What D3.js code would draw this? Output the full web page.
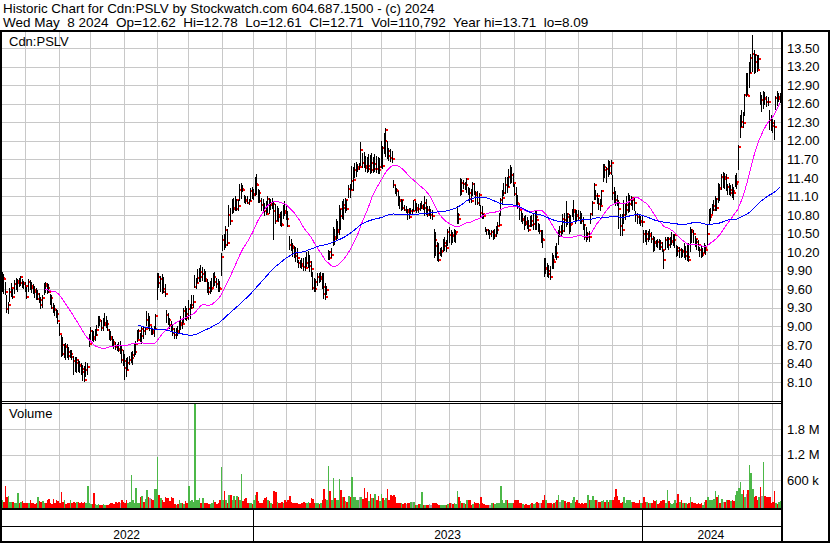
<!DOCTYPE html>
<html>
<head>
<meta charset="utf-8">
<script src="https://cdn.jsdelivr.net/npm/d3@7"></script>
<style>
  body { margin: 0; background: #fff; }
  svg { display: block; font-family: "Liberation Sans", Arial, sans-serif; }
</style>
</head>
<body>
<svg id="chart" width="830" height="543"></svg>
<script>
// ---- Daily data, Cdn:PSLV, 2022-05-09 .. 2024-05-08 ----
const highs = [
  9.80, 9.88, 9.85, 9.72, 9.50, 9.40, 9.62, 9.70, 9.60, 9.75,
  9.78, 9.76, 9.78, 9.82, 9.76, 9.74, 9.72, 9.64, 9.76, 9.75,
  9.72, 9.68, 9.66, 9.62, 9.58, 9.54, 9.48, 9.50, 9.70, 9.72,
  9.70, 9.68, 9.52, 9.50, 9.38, 9.34, 9.28, 9.26, 9.05, 8.86,
  8.83, 8.72, 8.73, 8.72, 8.66, 8.62, 8.62, 8.52, 8.50, 8.50,
  8.46, 8.44, 8.40, 8.38, 8.36, 8.42, 8.40, 8.88, 8.99, 8.94,
  8.92, 8.95, 9.02, 9.16, 9.16, 9.10, 9.14, 9.22, 9.16, 9.10,
  8.95, 8.92, 8.84, 8.80, 8.74, 8.72, 8.74, 8.76, 8.68, 8.62,
  8.56, 8.48, 8.50, 8.52, 8.58, 8.60, 8.72, 8.76, 8.94, 8.96,
  8.90, 8.99, 9.00, 8.98, 9.24, 9.22, 9.16, 9.00, 8.96, 9.00,
  9.20, 9.86, 9.86, 9.82, 9.84, 9.80, 9.68, 9.26, 9.22, 9.14,
  9.08, 9.04, 8.98, 8.98, 9.00, 9.08, 9.16, 9.14, 9.30, 9.33,
  9.30, 9.42, 9.36, 9.50, 9.50, 9.83, 9.78, 9.92, 9.94, 9.99,
  9.96, 9.92, 9.90, 9.76, 9.72, 9.74, 9.78, 9.86, 9.88, 9.78,
  9.76, 9.74, 10.18, 10.48, 10.50, 10.62, 10.58, 10.96, 10.92, 11.06,
  11.08, 11.10, 11.06, 11.04, 11.30, 11.32, 11.28, 11.12, 11.10, 11.10,
  11.06, 11.24, 11.26, 11.22, 11.42, 11.46, 11.22, 11.20, 11.08, 11.06,
  11.00, 11.02, 11.10, 11.08, 11.06, 11.08, 11.02, 10.98, 10.94, 10.92,
  10.85, 10.86, 10.96, 11.02, 10.98, 10.86, 10.46, 10.42, 10.34, 10.30,
  10.28, 10.26, 10.08, 10.07, 10.10, 10.10, 10.12, 10.20, 10.22, 10.16,
  10.05, 9.88, 9.78, 9.76, 9.86, 9.86, 9.88, 9.86, 9.86, 9.70,
  9.66, 10.23, 10.22, 10.26, 10.61, 10.58, 10.74, 10.70, 10.96, 10.90,
  11.02, 11.06, 11.08, 11.04, 11.28, 11.30, 11.60, 11.58, 11.64, 11.66,
  11.62, 11.64, 11.98, 11.80, 11.82, 11.76, 11.74, 11.78, 11.77, 11.80,
  11.74, 11.78, 11.76, 11.74, 11.72, 12.00, 11.92, 12.12, 12.20, 12.00,
  11.88, 11.86, 11.84, 11.37, 11.28, 11.24, 11.18, 11.10, 11.06, 11.04,
  10.96, 10.94, 10.90, 10.92, 10.92, 10.90, 11.04, 11.02, 11.00, 10.98,
  10.99, 11.02, 10.98, 11.10, 11.06, 10.94, 10.94, 10.90, 10.88, 10.58,
  10.52, 10.36, 10.34, 10.26, 10.28, 10.42, 10.44, 10.40, 10.58, 10.60,
  10.56, 10.52, 10.58, 10.56, 10.94, 10.84, 11.40, 11.38, 11.36, 11.34,
  11.40, 11.26, 11.24, 11.22, 11.34, 11.32, 11.18, 11.18, 11.15, 10.96,
  10.94, 10.82, 10.60, 10.58, 10.58, 10.56, 10.56, 10.56, 10.58, 10.62,
  10.68, 10.84, 11.07, 11.20, 11.32, 11.42, 11.42, 11.55, 11.61, 11.58,
  11.48, 11.30, 11.26, 11.12, 10.96, 10.86, 10.84, 10.78, 10.80, 10.76,
  10.72, 10.78, 10.80, 10.82, 10.88, 10.86, 10.67, 10.66, 10.56, 10.56,
  10.10, 10.10, 10.02, 9.99, 9.98, 10.18, 10.16, 10.30, 10.34, 10.56,
  10.62, 10.64, 10.82, 10.84, 11.02, 10.84, 10.82, 10.80, 10.90, 11.04,
  10.88, 10.88, 10.88, 10.86, 10.84, 10.76, 10.66, 10.60, 10.52, 10.54,
  10.84, 11.02, 11.31, 11.20, 11.15, 11.08, 11.06, 11.20, 11.63, 11.62,
  11.58, 11.69, 11.68, 11.69, 11.45, 11.26, 11.18, 11.12, 11.04, 10.82,
  10.82, 11.04, 10.98, 11.10, 11.16, 11.12, 11.10, 11.06, 11.08, 10.86,
  10.84, 10.82, 10.78, 10.78, 10.56, 10.56, 10.56, 10.54, 10.58, 10.52,
  10.46, 10.44, 10.40, 10.42, 10.42, 10.40, 10.36, 10.23, 10.44, 10.45,
  10.45, 10.44, 10.53, 10.50, 10.50, 10.32, 10.30, 10.28, 10.26, 10.25,
  10.34, 10.30, 10.34, 10.34, 10.61, 10.58, 10.55, 10.46, 10.42, 10.40,
  10.28, 10.30, 10.26, 10.34, 10.32, 10.66, 10.90, 10.92, 10.98, 11.04,
  11.10, 11.08, 11.31, 11.30, 11.47, 11.50, 11.48, 11.46, 11.30, 11.32,
  11.28, 11.30, 11.26, 11.45, 11.48, 11.93, 12.42, 12.50, 12.46, 12.76,
  13.09, 13.10, 13.28, 13.40, 13.71, 13.47, 13.40, 13.39, 13.38, 12.79,
  12.74, 12.80, 12.79, 12.72, 12.70, 12.49, 12.42, 12.35, 12.33, 12.72,
  12.80, 12.78, 12.78
];
const lows = [
  9.62, 9.55, 9.52, 9.50, 9.22, 9.20, 9.40, 9.48, 9.44, 9.52,
  9.58, 9.56, 9.64, 9.66, 9.62, 9.60, 9.56, 9.45, 9.56, 9.58,
  9.54, 9.52, 9.46, 9.43, 9.42, 9.38, 9.28, 9.30, 9.50, 9.54,
  9.52, 9.54, 9.34, 9.28, 9.22, 9.16, 9.14, 9.04, 8.85, 8.50,
  8.52, 8.48, 8.46, 8.48, 8.46, 8.48, 8.46, 8.22, 8.26, 8.24,
  8.26, 8.24, 8.22, 8.12, 8.10, 8.18, 8.22, 8.66, 8.76, 8.76,
  8.74, 8.76, 8.85, 8.98, 9.00, 8.92, 8.92, 9.00, 8.98, 8.92,
  8.78, 8.76, 8.68, 8.64, 8.62, 8.60, 8.58, 8.56, 8.40, 8.36,
  8.14, 8.18, 8.30, 8.38, 8.40, 8.38, 8.50, 8.54, 8.74, 8.80,
  8.74, 8.72, 8.80, 8.86, 9.00, 8.96, 8.92, 8.86, 8.86, 8.82,
  8.95, 9.42, 9.62, 9.55, 9.52, 9.54, 9.48, 9.06, 9.02, 8.96,
  8.92, 8.84, 8.80, 8.80, 8.84, 8.88, 8.94, 8.96, 9.06, 9.10,
  9.08, 9.10, 9.12, 9.28, 9.30, 9.62, 9.60, 9.70, 9.72, 9.72,
  9.74, 9.72, 9.72, 9.54, 9.50, 9.52, 9.56, 9.64, 9.66, 9.62,
  9.56, 9.56, 9.82, 10.22, 10.24, 10.26, 10.30, 10.60, 10.64, 10.82,
  10.84, 10.86, 10.86, 10.86, 11.02, 11.06, 11.17, 11.00, 10.98, 10.98,
  10.96, 11.02, 11.06, 11.04, 11.10, 11.12, 10.99, 10.99, 10.86, 10.86,
  10.78, 10.80, 10.84, 10.82, 10.88, 10.90, 10.40, 10.66, 10.70, 10.68,
  10.62, 10.60, 10.74, 10.78, 10.72, 10.60, 10.24, 10.22, 10.12, 10.10,
  10.04, 10.02, 9.94, 9.94, 9.92, 9.90, 9.90, 9.96, 9.94, 9.88,
  9.80, 9.58, 9.56, 9.56, 9.66, 9.70, 9.72, 9.60, 9.45, 9.43,
  9.50, 10.07, 10.08, 10.10, 10.30, 10.32, 10.40, 10.42, 10.48, 10.55,
  10.74, 10.72, 10.84, 10.86, 11.08, 11.08, 11.20, 11.18, 11.40, 11.42,
  11.50, 11.52, 11.60, 11.56, 11.56, 11.50, 11.48, 11.50, 11.46, 11.48,
  11.48, 11.50, 11.48, 11.46, 11.46, 11.56, 11.54, 11.78, 11.74, 11.70,
  11.68, 11.66, 11.64, 11.24, 11.14, 11.10, 10.94, 10.90, 10.86, 10.88,
  10.86, 10.84, 10.72, 10.74, 10.80, 10.80, 10.86, 10.86, 10.84, 10.84,
  10.86, 10.90, 10.88, 10.78, 10.80, 10.76, 10.78, 10.74, 10.72, 10.10,
  10.14, 10.06, 10.04, 10.14, 10.12, 10.20, 10.22, 10.20, 10.30, 10.34,
  10.32, 10.34, 10.36, 10.34, 10.66, 10.66, 11.10, 11.12, 11.22, 11.20,
  11.15, 11.12, 11.00, 11.00, 11.10, 11.12, 10.96, 10.96, 10.94, 10.75,
  10.74, 10.74, 10.52, 10.48, 10.48, 10.42, 10.44, 10.40, 10.42, 10.44,
  10.50, 10.62, 10.78, 10.96, 11.10, 11.14, 11.16, 11.26, 11.30, 11.32,
  11.26, 11.10, 10.96, 10.90, 10.72, 10.68, 10.66, 10.56, 10.62, 10.58,
  10.53, 10.60, 10.60, 10.56, 10.56, 10.56, 10.52, 10.50, 10.34, 10.26,
  9.80, 9.84, 9.80, 9.78, 9.75, 9.92, 9.92, 10.10, 10.08, 10.32,
  10.44, 10.46, 10.50, 10.52, 10.60, 10.64, 10.50, 10.52, 10.76, 10.72,
  10.66, 10.68, 10.70, 10.66, 10.66, 10.56, 10.40, 10.36, 10.40, 10.36,
  10.66, 10.78, 11.04, 11.04, 10.97, 10.88, 10.86, 10.96, 11.34, 11.40,
  11.32, 11.42, 11.45, 11.44, 11.04, 11.00, 10.94, 10.94, 10.58, 10.46,
  10.46, 10.66, 10.72, 10.80, 10.84, 10.85, 10.94, 10.88, 10.86, 10.68,
  10.66, 10.66, 10.62, 10.60, 10.34, 10.36, 10.32, 10.36, 10.40, 10.34,
  10.20, 10.22, 10.28, 10.26, 10.24, 10.24, 10.20, 9.93, 10.24, 10.26,
  10.24, 10.26, 10.32, 10.30, 10.26, 10.12, 10.14, 10.10, 10.10, 10.12,
  10.10, 10.08, 10.06, 10.04, 10.20, 10.34, 10.34, 10.28, 10.24, 10.22,
  10.12, 10.10, 10.12, 10.18, 10.16, 10.30, 10.66, 10.70, 10.82, 10.86,
  10.86, 10.86, 11.00, 11.02, 11.20, 11.24, 11.22, 11.18, 11.12, 11.12,
  11.10, 11.08, 11.04, 11.25, 11.22, 11.52, 12.04, 12.22, 12.20, 12.40,
  12.71, 12.74, 12.86, 13.10, 13.12, 13.08, 13.09, 13.12, 13.16, 12.58,
  12.47, 12.52, 12.58, 12.54, 12.56, 12.17, 12.16, 12.12, 12.01, 12.50,
  12.56, 12.62, 12.61
];
const closes = [
  9.70, 9.78, 9.76, 9.56, 9.28, 9.35, 9.55, 9.62, 9.48, 9.68,
  9.70, 9.74, 9.70, 9.80, 9.70, 9.68, 9.66, 9.48, 9.72, 9.66,
  9.62, 9.58, 9.56, 9.45, 9.52, 9.42, 9.34, 9.46, 9.68, 9.66,
  9.62, 9.56, 9.46, 9.30, 9.28, 9.26, 9.20, 9.08, 8.88, 8.70,
  8.56, 8.68, 8.66, 8.58, 8.52, 8.55, 8.51, 8.44, 8.40, 8.45,
  8.38, 8.36, 8.31, 8.26, 8.14, 8.30, 8.34, 8.72, 8.92, 8.82,
  8.80, 8.86, 8.94, 9.10, 9.08, 8.97, 9.02, 9.05, 9.04, 8.94,
  8.82, 8.80, 8.74, 8.72, 8.66, 8.64, 8.62, 8.62, 8.46, 8.44,
  8.32, 8.30, 8.40, 8.45, 8.48, 8.54, 8.58, 8.72, 8.78, 8.92,
  8.84, 8.96, 8.92, 8.95, 9.10, 9.02, 9.02, 8.92, 8.90, 8.96,
  9.16, 9.80, 9.70, 9.76, 9.60, 9.56, 9.52, 9.18, 9.10, 9.02,
  8.96, 8.90, 8.86, 8.92, 8.90, 9.02, 9.06, 9.04, 9.24, 9.20,
  9.14, 9.28, 9.30, 9.34, 9.40, 9.64, 9.70, 9.78, 9.88, 9.80,
  9.84, 9.76, 9.74, 9.62, 9.56, 9.60, 9.62, 9.80, 9.72, 9.68,
  9.62, 9.60, 10.12, 10.40, 10.32, 10.56, 10.34, 10.80, 10.70, 10.90,
  10.92, 10.90, 11.04, 10.94, 11.20, 11.22, 11.20, 11.04, 11.02, 11.00,
  11.02, 11.18, 11.12, 11.14, 11.30, 11.28, 11.16, 11.02, 10.96, 10.92,
  10.86, 10.82, 11.06, 10.96, 11.00, 10.98, 10.86, 10.70, 10.80, 10.76,
  10.66, 10.64, 10.86, 10.84, 10.74, 10.62, 10.32, 10.30, 10.26, 10.18,
  10.14, 10.10, 10.02, 10.00, 9.98, 9.96, 9.94, 10.02, 10.04, 9.98,
  9.92, 9.62, 9.60, 9.72, 9.80, 9.76, 9.80, 9.64, 9.53, 9.48,
  9.58, 10.20, 10.10, 10.16, 10.45, 10.42, 10.53, 10.56, 10.90, 10.78,
  10.96, 10.92, 11.04, 10.90, 11.22, 11.20, 11.35, 11.37, 11.52, 11.54,
  11.58, 11.58, 11.85, 11.64, 11.60, 11.56, 11.54, 11.60, 11.52, 11.64,
  11.54, 11.62, 11.55, 11.52, 11.58, 11.88, 11.60, 12.00, 12.18, 11.84,
  11.76, 11.72, 11.70, 11.28, 11.20, 11.18, 11.04, 11.02, 11.04, 10.92,
  10.88, 10.88, 10.85, 10.76, 10.86, 10.86, 11.04, 10.88, 10.92, 10.90,
  10.92, 10.94, 10.92, 10.99, 10.88, 10.80, 10.80, 10.80, 10.78, 10.40,
  10.30, 10.18, 10.08, 10.20, 10.22, 10.30, 10.34, 10.26, 10.52, 10.48,
  10.48, 10.46, 10.50, 10.52, 10.80, 10.74, 11.32, 11.18, 11.30, 11.28,
  11.38, 11.16, 11.06, 11.02, 11.30, 11.16, 11.12, 11.00, 11.12, 10.83,
  10.82, 10.78, 10.56, 10.55, 10.50, 10.50, 10.52, 10.46, 10.48, 10.56,
  10.62, 10.64, 11.04, 11.08, 11.15, 11.28, 11.26, 11.42, 11.44, 11.45,
  11.31, 11.14, 11.00, 10.98, 10.88, 10.72, 10.74, 10.69, 10.66, 10.62,
  10.56, 10.70, 10.64, 10.66, 10.76, 10.72, 10.54, 10.54, 10.42, 10.40,
  9.92, 9.94, 9.90, 9.84, 9.80, 10.08, 10.04, 10.18, 10.12, 10.52,
  10.52, 10.54, 10.74, 10.72, 10.82, 10.77, 10.64, 10.66, 10.85, 10.88,
  10.80, 10.78, 10.75, 10.72, 10.70, 10.64, 10.45, 10.44, 10.50, 10.44,
  10.82, 11.00, 11.28, 11.10, 11.10, 10.98, 10.94, 11.18, 11.58, 11.52,
  11.54, 11.48, 11.60, 11.64, 11.16, 11.04, 11.00, 10.99, 10.90, 10.62,
  10.56, 10.80, 10.88, 10.96, 10.98, 11.04, 11.07, 11.04, 11.00, 10.80,
  10.76, 10.69, 10.70, 10.69, 10.50, 10.42, 10.50, 10.46, 10.50, 10.42,
  10.36, 10.34, 10.37, 10.36, 10.34, 10.28, 10.23, 10.07, 10.40, 10.42,
  10.32, 10.36, 10.38, 10.40, 10.48, 10.26, 10.22, 10.24, 10.20, 10.22,
  10.14, 10.20, 10.12, 10.08, 10.55, 10.52, 10.50, 10.42, 10.36, 10.32,
  10.24, 10.16, 10.18, 10.27, 10.24, 10.50, 10.76, 10.80, 10.88, 10.95,
  11.06, 10.92, 11.23, 11.22, 11.42, 11.42, 11.38, 11.40, 11.26, 11.15,
  11.20, 11.18, 11.15, 11.30, 11.34, 11.90, 12.23, 12.30, 12.28, 12.74,
  12.74, 12.72, 13.09, 13.34, 13.41, 13.38, 13.28, 13.14, 13.33, 12.66,
  12.66, 12.69, 12.68, 12.63, 12.62, 12.34, 12.28, 12.24, 12.22, 12.69,
  12.68, 12.70, 12.71
];
// daily volume, thousands of shares
const volumes = [
  260, 120, 90, 470, 200, 220, 80, 75, 85, 60,
  70, 300, 60, 90, 100, 60, 70, 60, 55, 120,
  50, 70, 40, 60, 210, 100, 90, 110, 60, 50,
  130, 160, 60, 40, 160, 50, 130, 100, 60, 320,
  90, 130, 40, 50, 60, 130, 70, 80, 60, 90,
  80, 50, 90, 70, 80, 60, 460, 60, 30, 40,
  300, 40, 20, 30, 15, 20, 25, 10, 15, 20,
  40, 60, 50, 30, 80, 60, 90, 70, 120, 90,
  60, 120, 60, 90, 720, 120, 70, 410, 60, 60,
  200, 220, 90, 150, 360, 200, 180, 160, 130, 400,
  390, 1150, 250, 170, 130, 80, 210, 180, 170, 100,
  200, 180, 40, 20, 30, 120, 60, 50, 40, 110,
  60, 470, 100, 120, 80, 2420, 120, 130, 170, 60,
  170, 60, 50, 60, 40, 40, 60, 130, 90, 40,
  60, 120, 900, 120, 330, 140, 60, 250, 250, 130,
  230, 130, 220, 200, 140, 750, 110, 160, 170, 60,
  60, 50, 40, 130, 240, 320, 100, 60, 50, 130,
  170, 210, 130, 100, 50, 40, 330, 320, 90, 60,
  60, 90, 50, 130, 90, 140, 230, 80, 60, 60,
  50, 60, 40, 30, 60, 80, 50, 60, 90, 70,
  170, 150, 60, 60, 50, 40, 60, 120, 380, 150,
  130, 930, 340, 130, 650, 170, 120, 130, 620, 360,
  200, 200, 100, 80, 220, 200, 680, 210, 200, 130,
  120, 200, 210, 150, 420, 180, 320, 100, 260, 170,
  170, 260, 120, 230, 110, 270, 180, 130, 170, 400,
  130, 250, 230, 250, 200, 60, 50, 60, 50, 40,
  50, 30, 60, 50, 80, 90, 80, 20, 15, 30,
  40, 320, 15, 15, 20, 15, 30, 15, 60, 50,
  60, 40, 20, 15, 20, 10, 15, 20, 30, 50,
  60, 40, 60, 40, 330, 200, 100, 60, 50, 40,
  130, 120, 130, 20, 30, 90, 60, 50, 40, 190,
  60, 40, 10, 10, 15, 20, 60, 50, 40, 60,
  50, 60, 470, 120, 70, 120, 130, 60, 50, 60,
  60, 130, 120, 130, 50, 60, 40, 20, 30, 15,
  20, 40, 60, 30, 60, 90, 50, 60, 70, 130,
  240, 120, 60, 50, 60, 40, 60, 90, 120, 250,
  80, 120, 130, 110, 60, 90, 80, 60, 120, 200,
  90, 130, 60, 40, 60, 30, 50, 60, 250, 130,
  120, 230, 130, 120, 130, 90, 80, 100, 130, 80,
  130, 90, 140, 130, 130, 200, 400, 230, 130, 60,
  80, 200, 60, 130, 140, 120, 80, 90, 90, 60,
  70, 120, 50, 60, 200, 90, 90, 60, 70, 50,
  120, 110, 120, 40, 60, 110, 120, 130, 70, 360,
  100, 50, 40, 60, 120, 70, 270, 80, 130, 70,
  60, 50, 40, 60, 210, 80, 60, 50, 30, 50,
  40, 70, 10, 90, 130, 210, 120, 130, 140, 150,
  330, 200, 250, 50, 160, 80, 90, 130, 120, 130,
  110, 130, 110, 250, 330, 420, 560, 260, 360, 200,
  280, 360, 950, 770, 400, 200, 230, 130, 200, 440,
  220, 1030, 220, 200, 200, 210, 50, 90, 330, 60,
  40, 80, 110.792
];

// Axis values
const priceTicks = [8.10, 8.40, 8.70, 9.00, 9.30, 9.60, 9.90, 10.20, 10.50,
                    10.80, 11.10, 11.40, 11.70, 12.00, 12.30, 12.60, 12.90, 13.20, 13.50];
const volumeTicks = [600, 1200, 1800];          // thousands
const maPeriods = [30, 90];                     // short and long moving averages

// TSX market holidays inside the period
const holidays = [
  "2022-05-23", "2022-07-01", "2022-08-01", "2022-09-05", "2022-10-10", "2022-12-26", "2022-12-27",
  "2023-01-02", "2023-02-20", "2023-04-07", "2023-05-22", "2023-07-03", "2023-08-07", "2023-09-04",
  "2023-10-09", "2023-12-25", "2023-12-26",
  "2024-01-01", "2024-02-19", "2024-03-29"
];
const firstDay = "2022-05-09";
const lastDay = "2024-05-08";

const titleText = "Historic Chart for Cdn:PSLV by Stockwatch.com 604.687.1500 - (c) 2024";
const quoteText = "Wed May  8 2024  Op=12.62  Hi=12.78  Lo=12.61  Cl=12.71  Vol=110,792  Year hi=13.71  lo=8.09";
const symbolText = "Cdn:PSLV";

// ---- Trading calendar ----
const parse = d3.utcParse("%Y-%m-%d");
const fmtDay = d3.utcFormat("%Y-%m-%d");
const holidaySet = new Set(holidays);
const tradingDays = d3.utcDay.range(parse(firstDay), d3.utcDay.offset(parse(lastDay), 1))
  .filter(d => d.getUTCDay() !== 0 && d.getUTCDay() !== 6 && !holidaySet.has(fmtDay(d)));

const N = Math.min(highs.length, lows.length, closes.length, volumes.length);
const days = tradingDays.slice(tradingDays.length - N);

const monthStarts = [], yearStarts = [];
for (let i = 1; i < N; i++) {
  if (days[i].getUTCMonth() !== days[i - 1].getUTCMonth()) monthStarts.push(i);
  if (days[i].getUTCFullYear() !== days[i - 1].getUTCFullYear()) yearStarts.push(i);
}

// ---- Layout ----
const W = 830, H = 543;
const plotL = 2, plotR = 781;
const priceTop = 32, priceBot = 401;
const volTop = 404, volBot = 508;

const xs = d3.scaleLinear().domain([0, N - 1]).range([0, 780]);
const y = d3.scaleLinear().domain([8.10, 13.50]).range([382, 48]);
const vy = d3.scaleLinear().domain([0, 1800]).range([505.5, 429]);

const svg = d3.select("#chart");
const ink = "#000";
const gridColor = "#c8c8c8";

const defs = svg.append("defs");
defs.append("clipPath").attr("id", "clipPrice")
  .append("rect").attr("x", plotL).attr("y", priceTop).attr("width", plotR - plotL).attr("height", priceBot - priceTop);
defs.append("clipPath").attr("id", "clipVol")
  .append("rect").attr("x", plotL).attr("y", volTop).attr("width", plotR - plotL).attr("height", volBot - volTop);

// ---- Header ----
svg.append("text").attr("x", 3).attr("y", 13).attr("font-size", 13.4).attr("fill", ink).text(titleText);
svg.append("text").attr("x", 3).attr("y", 27).attr("font-size", 13.5).attr("fill", ink)
  .style("white-space", "pre").text(quoteText);

// ---- Grids ----
function styleGrid(g) {
  g.select(".domain").remove();
  g.selectAll(".tick line").attr("stroke", gridColor).attr("shape-rendering", "crispEdges");
  g.selectAll(".tick text").remove();
}
svg.append("g").attr("transform", `translate(${plotR},0)`)
  .call(d3.axisLeft(y).tickValues(priceTicks).tickSize(plotR - plotL).tickFormat(""))
  .call(styleGrid);
svg.append("g").attr("transform", `translate(0,${priceBot})`)
  .call(d3.axisBottom(xs).tickValues(monthStarts).tickSize(-(priceBot - priceTop)).tickFormat(""))
  .call(styleGrid);
svg.append("g").attr("transform", `translate(${plotR},0)`)
  .call(d3.axisLeft(vy).tickValues(volumeTicks).tickSize(plotR - plotL).tickFormat(""))
  .call(styleGrid);
svg.append("g").attr("transform", `translate(0,${volBot})`)
  .call(d3.axisBottom(xs).tickValues(monthStarts).tickSize(-(volBot - volTop)).tickFormat(""))
  .call(styleGrid);

// ---- Price bars (high-low line with a close tick on its right) ----
const px = i => Math.round(xs(i));
const priceG = svg.append("g").attr("clip-path", "url(#clipPrice)").attr("shape-rendering", "crispEdges");
const ohlc = priceG.selectAll("g.day").data(d3.range(N)).join("g").attr("class", "day");
ohlc.append("rect")
  .attr("x", i => px(i)).attr("width", 1)
  .attr("y", i => Math.round(y(highs[i])))
  .attr("height", i => Math.max(1, Math.round(y(lows[i])) - Math.round(y(highs[i]))))
  .attr("fill", ink);
ohlc.append("rect")
  .attr("x", i => px(i) + 1).attr("width", 2)
  .attr("y", i => Math.round(y(closes[i])) - 1).attr("height", 2)
  .attr("fill", "#ff0000");

// ---- Moving averages ----
function sma(period) {
  const out = [];
  for (let i = period - 1; i < N; i++) out.push([i, d3.mean(closes.slice(i - period + 1, i + 1))]);
  return out;
}
const maLine = d3.line().x(d => xs(d[0])).y(d => y(d[1]));
const maColors = ["#ff00ff", "#0000ff"];
maPeriods.forEach((p, k) => {
  priceG.append("path").datum(sma(p)).attr("d", maLine)
    .attr("fill", "none").attr("stroke", maColors[k]).attr("stroke-width", 1)
    .attr("shape-rendering", "crispEdges");
});

// ---- Volume bars ----
const volG = svg.append("g").attr("clip-path", "url(#clipVol)").attr("shape-rendering", "crispEdges");
volG.selectAll("rect").data(d3.range(N)).join("rect")
  .attr("x", i => px(i))
  .attr("width", i => Math.max(1, (i < N - 1 ? px(i + 1) : px(i) + 2) - px(i)))
  .attr("y", i => Math.round(vy(volumes[i])))
  .attr("height", i => volBot - Math.round(vy(volumes[i])))
  .attr("fill", i => {
    if (i === 0) return "#a0a0a0";
    const d = closes[i] - closes[i - 1];
    return d > 0 ? "#4cb848" : d < 0 ? "#ff0000" : "#a0a0a0";
  });

// ---- Right-hand axis labels ----
svg.append("g").attr("transform", `translate(${plotR + 2},0)`)
  .call(d3.axisRight(y).tickValues(priceTicks).tickSize(0).tickPadding(4).tickFormat(d3.format(".2f")))
  .call(g => g.select(".domain").remove())
  .call(g => g.selectAll("text").attr("font-size", 13).attr("font-family", "Liberation Sans, Arial, sans-serif").attr("fill", ink));
svg.append("g").attr("transform", `translate(${plotR + 2},0)`)
  .call(d3.axisRight(vy).tickValues(volumeTicks).tickSize(0).tickPadding(4)
    .tickFormat(v => v >= 1000 ? `${v / 1000} M` : `${v} k`))
  .call(g => g.select(".domain").remove())
  .call(g => g.selectAll("text").attr("font-size", 13).attr("font-family", "Liberation Sans, Arial, sans-serif").attr("fill", ink));

// ---- Panel captions ----
svg.append("text").attr("x", 9).attr("y", 46).attr("font-size", 13).attr("fill", ink).text(symbolText);
svg.append("text").attr("x", 9).attr("y", 418).attr("font-size", 13).attr("fill", ink).text("Volume");

// ---- Frame ----
const frame = svg.append("g").attr("fill", ink).attr("shape-rendering", "crispEdges");
const box = (x, yy, w, h) => frame.append("rect").attr("x", x).attr("y", yy).attr("width", w).attr("height", h);
box(0, 30, W, 2);                  // under header
box(0, 30, 2, H - 30);             // left edge
box(W - 2, 30, 2, H - 30);         // right edge
box(0, H - 2, W, 2);               // bottom edge
box(plotR, 30, 2, H - 30);         // axis column divider
box(0, 401, plotR, 1);             // price / volume double rule
box(0, 403, plotR, 1);
box(0, 508, plotR, 2);             // volume baseline
box(0, 526, plotR, 1);             // time rows divider

// ---- Year row ----
const bounds = [0, ...yearStarts, N - 1];
const yearG = svg.append("g");
yearStarts.forEach(i => box(px(i), 510, 1, 31));
for (let k = 0; k < bounds.length - 1; k++) {
  const x0 = xs(bounds[k]), x1 = xs(bounds[k + 1]);
  yearG.append("text").attr("x", (x0 + x1) / 2).attr("y", 539).attr("text-anchor", "middle")
    .attr("font-size", 12).attr("fill", ink).text(days[bounds[k]].getUTCFullYear());
}
</script>
</body>
</html>
